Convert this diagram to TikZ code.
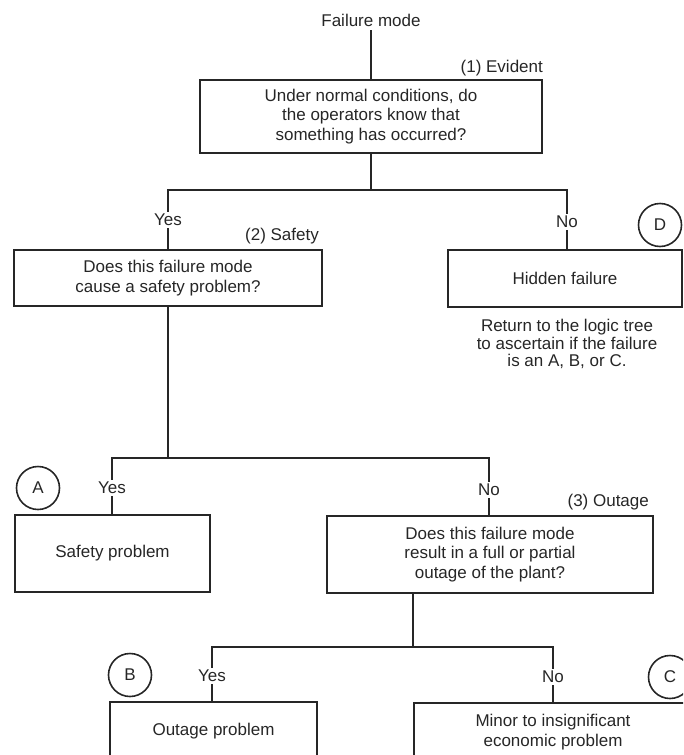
\documentclass[tikz,border=0pt]{standalone}
\usepackage{fontspec}
\setmainfont{Liberation Sans}
\begin{document}
\begin{tikzpicture}[x=1pt,y=-1pt, line width=1.6pt, draw=black!85,
  every node/.style={font=\fontsize{17}{19.5}\selectfont, text=black!85},
  box/.style={draw=black!85, align=center, inner sep=0pt},
  lbl/.style={inner sep=1.5pt},
  tag/.style={draw=black!85, circle, minimum size=43pt, inner sep=0pt}]
\useasboundingbox (0,0) rectangle (683,755);
\clip (0,0) rectangle (683,755);

% question 1
\node (fm) at (371,20) {Failure mode};
\node[box, minimum width=342pt, minimum height=73pt] (q1) at (371,116.5)
  {Under normal conditions, do\\the operators know that\\something has occurred?};
\node[anchor=east] (ev) at (547,68) {(1) Evident};
\coordinate (j1) at (371,190);

% question 2 and hidden failure
\node[lbl] (yes1) at (168,220) {Yes};
\node[lbl] (no1) at (567,222) {No};
\node[box, minimum width=308pt, minimum height=56pt] (q2) at (168,278)
  {Does this failure mode\\cause a safety problem?};
\node[anchor=east] (sf) at (323,236) {(2) Safety};
\node[box, minimum width=234pt, minimum height=57pt] (hid) at (565,278.5) {Hidden failure};
\node[tag] (D) at (660,225) {D};
\node[align=center, font=\fontsize{17}{17.5}\selectfont] (ret) at (567,344)
  {Return to the logic tree\\to ascertain if the failure\\is an A, B, or C.};
\coordinate (j2) at (168,458);

% safety problem and question 3
\node[lbl] (yes2) at (112,488) {Yes};
\node[tag] (A) at (38,488) {A};
\node[box, minimum width=195pt, minimum height=77pt] (sp) at (112.5,553.5) {Safety problem};
\node[lbl] (no2) at (489,490) {No};
\node[box, minimum width=326pt, minimum height=77pt] (q3) at (490,554.5)
  {Does this failure mode\\result in a full or partial\\outage of the plant?};
\node[anchor=east] (ot) at (653,502) {(3) Outage};
\coordinate (j3) at (413,647);

% outage and economic outcomes
\node[lbl] (yes3) at (212,676) {Yes};
\node[tag] (B) at (130,675) {B};
\node[box, minimum width=207pt, minimum height=58pt] (op) at (213.5,731) {Outage problem};
\node[lbl] (no3) at (553,677) {No};
\node[tag] (C) at (670,677) {C};
\node[box, minimum width=278pt, minimum height=58pt] (mn) at (553,732)
  {Minor to insignificant\\economic problem};

% connectors
\draw (fm) -- (q1);
\draw (q1) -- (j1);
\draw (yes1) -- (yes1 |- j1) -- (no1 |- j1) -- (no1);
\draw (yes1) -- (yes1 |- q2.north);
\draw (no1) -- (no1 |- hid.north);
\draw (q2) -- (j2);
\draw (yes2) -- (yes2 |- j2) -- (no2 |- j2) -- (no2);
\draw (yes2) -- (yes2 |- sp.north);
\draw (no2) -- (no2 |- q3.north);
\draw (q3.south -| j3) -- (j3);
\draw (yes3) -- (yes3 |- j3) -- (no3 |- j3) -- (no3);
\draw (yes3) -- (yes3 |- op.north);
\draw (no3) -- (no3 |- mn.north);
\end{tikzpicture}
\end{document}
